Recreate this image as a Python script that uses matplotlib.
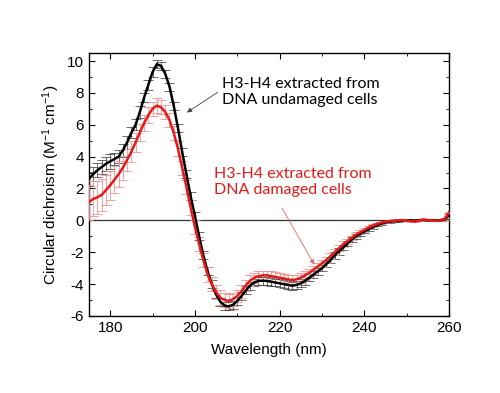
import numpy as np
import matplotlib.pyplot as plt
from matplotlib.ticker import MultipleLocator

plt.rcParams['font.family'] = ['Liberation Sans', 'DejaVu Sans']
plt.rcParams['mathtext.fontset'] = 'custom'
plt.rcParams['mathtext.rm'] = 'Liberation Sans'
plt.rcParams['mathtext.it'] = 'Liberation Sans'
plt.rcParams['axes.unicode_minus'] = False

# wavelength grid, 1 nm steps
wavelength = np.arange(175, 261)

# H3-H4 from DNA undamaged cells
undamaged = [2.6, 2.9, 3.15, 3.35, 3.55, 3.7, 3.85, 4.0, 4.4, 4.9,
             5.5, 6.0, 6.8, 7.7, 8.5, 9.3, 9.8, 9.7, 9.2, 8.4,
             7.2, 5.8, 4.3, 2.9, 1.5, 0.3, -1.0, -2.2, -3.2, -4.0,
             -4.65, -5.1, -5.35, -5.4, -5.3, -5.05, -4.75, -4.4, -4.1, -3.9,
             -3.8, -3.78, -3.8, -3.85, -3.9, -3.95, -4.0, -4.05, -4.1, -4.05,
             -3.95, -3.8, -3.6, -3.4, -3.2, -3.0, -2.75, -2.5, -2.2, -1.95,
             -1.7, -1.45, -1.2, -1.0, -0.85, -0.7, -0.55, -0.42, -0.3, -0.2,
             -0.13, -0.08, -0.04, -0.02, 0.0, 0.01, 0.0, -0.02, 0.02, 0.03,
             0.0, 0.02, 0.0, 0.0, 0.05, 0.35]
undamaged_err = [0.45, 0.45, 0.45, 0.45, 0.45, 0.45, 0.4, 0.4, 0.4, 0.4,
                 0.35, 0.35, 0.35, 0.3, 0.3, 0.3, 0.25, 0.25, 0.25, 0.25,
                 0.25, 0.25, 0.25, 0.25, 0.25, 0.25, 0.25, 0.25, 0.25, 0.25,
                 0.25, 0.25, 0.25, 0.25, 0.25, 0.25, 0.25, 0.25, 0.25, 0.25,
                 0.25, 0.25, 0.25, 0.25, 0.25, 0.25, 0.25, 0.25, 0.25, 0.25,
                 0.25, 0.25, 0.22, 0.22, 0.22, 0.2, 0.2, 0.2, 0.2, 0.2,
                 0.18, 0.18, 0.16, 0.15, 0.14, 0.12, 0.1, 0.1, 0.08, 0.08,
                 0.06, 0.06, 0.06, 0.06, 0.06, 0.05, 0.05, 0.05, 0.05, 0.05,
                 0.05, 0.05, 0.05, 0.05, 0.05, 0.05]

# H3-H4 from DNA damaged cells
damaged = [1.15, 1.35, 1.45, 1.6, 1.9, 2.2, 2.55, 2.9, 3.3, 3.8,
           4.3, 4.9, 5.5, 6.1, 6.6, 7.0, 7.2, 7.1, 6.8, 6.3,
           5.5, 4.5, 3.3, 2.1, 0.8, -0.4, -1.5, -2.5, -3.4, -4.0,
           -4.5, -4.85, -5.0, -5.05, -4.95, -4.75, -4.45, -4.1, -3.8, -3.6,
           -3.5, -3.45, -3.45, -3.5, -3.55, -3.6, -3.65, -3.7, -3.75, -3.7,
           -3.6, -3.45, -3.3, -3.1, -2.9, -2.7, -2.5, -2.25, -2.0, -1.75,
           -1.5, -1.3, -1.1, -0.9, -0.75, -0.6, -0.45, -0.33, -0.22, -0.14,
           -0.08, -0.04, -0.02, 0.0, 0.02, 0.0, -0.05, -0.08, 0.0, 0.05,
           0.02, 0.0, -0.02, -0.02, 0.1, 0.5]
damaged_err = [1.1, 1.1, 1.05, 1.0, 0.95, 0.9, 0.85, 0.8, 0.75, 0.7,
               0.65, 0.6, 0.55, 0.5, 0.5, 0.45, 0.45, 0.45, 0.45, 0.45,
               0.45, 0.45, 0.45, 0.45, 0.45, 0.45, 0.45, 0.45, 0.45, 0.45,
               0.45, 0.45, 0.45, 0.45, 0.4, 0.4, 0.4, 0.35, 0.35, 0.3,
               0.3, 0.3, 0.3, 0.3, 0.3, 0.3, 0.3, 0.3, 0.3, 0.3,
               0.3, 0.28, 0.26, 0.25, 0.24, 0.22, 0.2, 0.2, 0.2, 0.2,
               0.18, 0.16, 0.15, 0.14, 0.12, 0.1, 0.1, 0.08, 0.08, 0.06,
               0.06, 0.05, 0.05, 0.05, 0.05, 0.05, 0.05, 0.05, 0.05, 0.05,
               0.05, 0.05, 0.05, 0.05, 0.05, 0.05]

fig = plt.figure(figsize=(5, 3.93), dpi=100)
ax = fig.add_axes([0.178, 0.196, 0.72, 0.669])

ax.axhline(0, color='#333333', lw=0.9, zorder=1)

ax.errorbar(wavelength, undamaged, yerr=undamaged_err, fmt='none',
            ecolor='#333333', elinewidth=0.5, capsize=3.5, capthick=0.5, zorder=2)
ax.errorbar(wavelength, damaged, yerr=damaged_err, fmt='none',
            ecolor='#f29090', elinewidth=0.6, capsize=3.5, capthick=0.6, zorder=3)
ax.plot(wavelength, undamaged, color='black', lw=1.8, zorder=4)
ax.plot(wavelength, damaged, color='#e41a1a', lw=1.8, zorder=5)

ax.set_xlim(175, 260)
ax.set_ylim(-6, 10.5)
ax.xaxis.set_major_locator(MultipleLocator(20))
ax.xaxis.set_minor_locator(MultipleLocator(10))
ax.yaxis.set_major_locator(MultipleLocator(2))
ax.yaxis.set_minor_locator(MultipleLocator(1))
ax.tick_params(which='both', direction='in', top=True, right=True, labelsize=11)
ax.tick_params(which='major', length=4)
ax.tick_params(which='minor', length=2.5)
for s in ax.spines.values():
    s.set_linewidth(1.0)

ax.set_xlabel('Wavelength (nm)', fontsize=11, labelpad=6)
ax.set_ylabel('Circular dichroism (M$^{-1}$ cm$^{-1}$)', fontsize=11, labelpad=4)

ax.text(206.5, 8.05, 'H3-H4 extracted from\nDNA undamaged cells', ha='left',
        va='center', fontsize=11.5, family=['Lato', 'DejaVu Sans'], linespacing=1.15)
ax.annotate('', xy=(198.1, 6.77), xytext=(205.4, 8.04),
            arrowprops=dict(arrowstyle='-|>', color='#444444', lw=0.6,
                            mutation_scale=7, shrinkA=0, shrinkB=0))
ax.text(204.6, 2.4, 'H3-H4 extracted from\nDNA damaged cells', ha='left',
        va='center', fontsize=11.5, color='#e41a1a',
        family=['Lato', 'DejaVu Sans'], linespacing=1.15)
ax.annotate('', xy=(228.2, -2.78), xytext=(220.6, 0.76),
            arrowprops=dict(arrowstyle='-|>', color='#f06060', lw=0.6,
                            mutation_scale=7, shrinkA=0, shrinkB=0))

fig.savefig('out.png', dpi=100)
